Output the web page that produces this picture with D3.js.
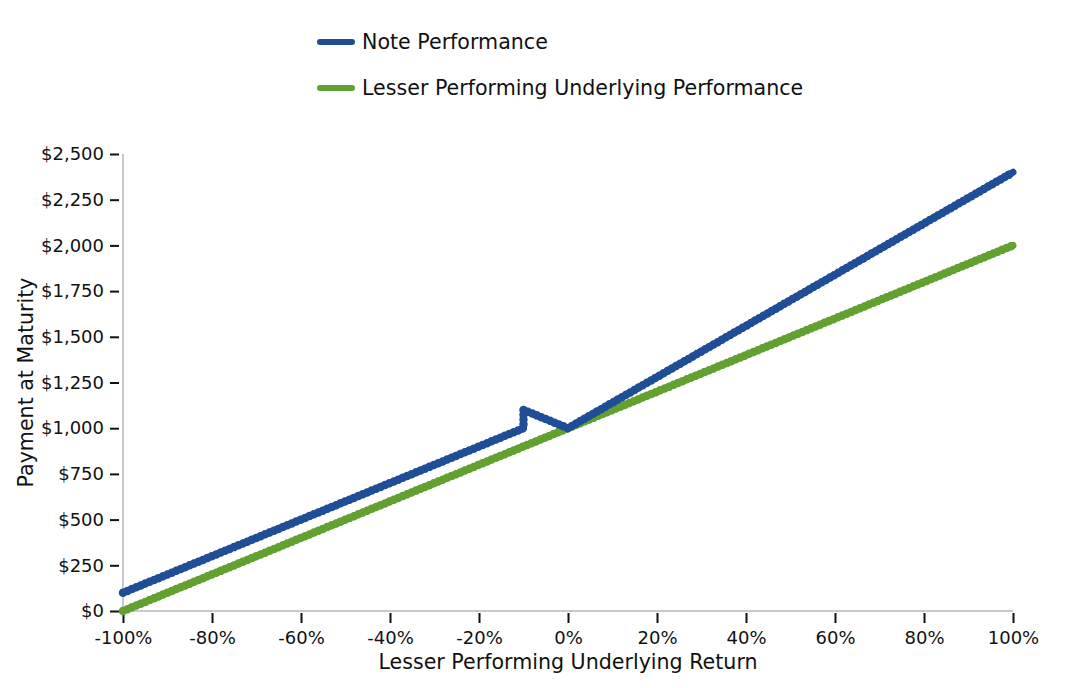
<!DOCTYPE html>
<html><head><meta charset="utf-8">
<script src="https://cdn.jsdelivr.net/npm/d3@7"></script>
<style>body{margin:0;background:#fff;} svg{display:block;} text{font-family:"DejaVu Sans",sans-serif;fill:#111;}</style>
</head><body>
<svg id="c" width="1086" height="688"></svg>
<script>
// Data (returns in %, payments in $)
const noteReturns = [-100, -10, -10, 0, 100];
const noteValues = [100, 1000, 1100, 1000, 2400];
const underlyingReturns = [-100, 100];
const underlyingValues = [0, 2000];
const xTicks = [-100, -80, -60, -40, -20, 0, 20, 40, 60, 80, 100];
const yTicks = [0, 250, 500, 750, 1000, 1250, 1500, 1750, 2000, 2250, 2500];
const seriesNames = ["Note Performance", "Lesser Performing Underlying Performance"];
const colors = ["#1f4e97", "#62a030"];

const svg = d3.select("#c");
const x = d3.scaleLinear().domain([-100, 100]).range([123, 1013]);
const y = d3.scaleLinear().domain([0, 2500]).range([611, 154]);

// spines
svg.append("line").attr("x1", 123).attr("x2", 123).attr("y1", y(2500)).attr("y2", y(0))
  .attr("stroke", "#c3cbd0").attr("stroke-width", 2);
svg.append("line").attr("x1", 123).attr("x2", x(100)).attr("y1", 611).attr("y2", 611)
  .attr("stroke", "#c3cbd0").attr("stroke-width", 2);

// y axis
const yAxis = d3.axisLeft(y).tickValues(yTicks).tickSize(9).tickPadding(6)
  .tickFormat(d => "$" + d3.format(",")(d));
const gy = svg.append("g").attr("transform", "translate(119,0)").call(yAxis);
gy.select(".domain").remove();
gy.selectAll(".tick line").attr("stroke", "#111").attr("stroke-width", 2);
gy.selectAll(".tick text").style("font-size", "18px").style("font-family", "DejaVu Sans").attr("fill", "#111");

// x axis
const xAxis = d3.axisBottom(x).tickValues(xTicks).tickSize(10).tickPadding(8)
  .tickFormat(d => d + "%");
const gx = svg.append("g").attr("transform", "translate(0,613)").call(xAxis);
gx.select(".domain").remove();
gx.selectAll(".tick line").attr("stroke", "#111").attr("stroke-width", 2);
gx.selectAll(".tick text").style("font-size", "18px").style("font-family", "DejaVu Sans").attr("fill", "#111");

// axis titles
svg.append("text").attr("x", x(0)).attr("y", 669).attr("text-anchor", "middle")
  .style("font-size", "20.6px").text("Lesser Performing Underlying Return");
svg.append("text").attr("transform", "translate(33," + ((y(0) + y(2500)) / 2) + ") rotate(-90)")
  .attr("text-anchor", "middle").style("font-size", "20.6px").text("Payment at Maturity");

// lines
const line = d3.line().x(d => x(d[0])).y(d => y(d[1]));
const series = [
  d3.zip(underlyingReturns, underlyingValues),
  d3.zip(noteReturns, noteValues)
];
const sColors = [colors[1], colors[0]];
series.forEach((s, i) => {
  svg.append("path").attr("d", line(s)).attr("fill", "none").attr("stroke", sColors[i])
    .attr("stroke-width", 7).attr("stroke-linecap", "round").attr("stroke-linejoin", "round");
  svg.append("path").attr("d", line(s)).attr("fill", "none").attr("stroke", sColors[i])
    .attr("stroke-width", 8.5).attr("stroke-linecap", "round").attr("stroke-dasharray", "0 4.8");
});

// legend
seriesNames.forEach((n, i) => {
  const ly = 42 + i * 46;
  svg.append("line").attr("x1", 320).attr("x2", 352).attr("y1", ly).attr("y2", ly)
    .attr("stroke", colors[i]).attr("stroke-width", 6).attr("stroke-linecap", "round");
  svg.append("text").attr("x", 362).attr("y", ly + 7).style("font-size", "20.6px").text(n);
});
</script>
</body></html>
